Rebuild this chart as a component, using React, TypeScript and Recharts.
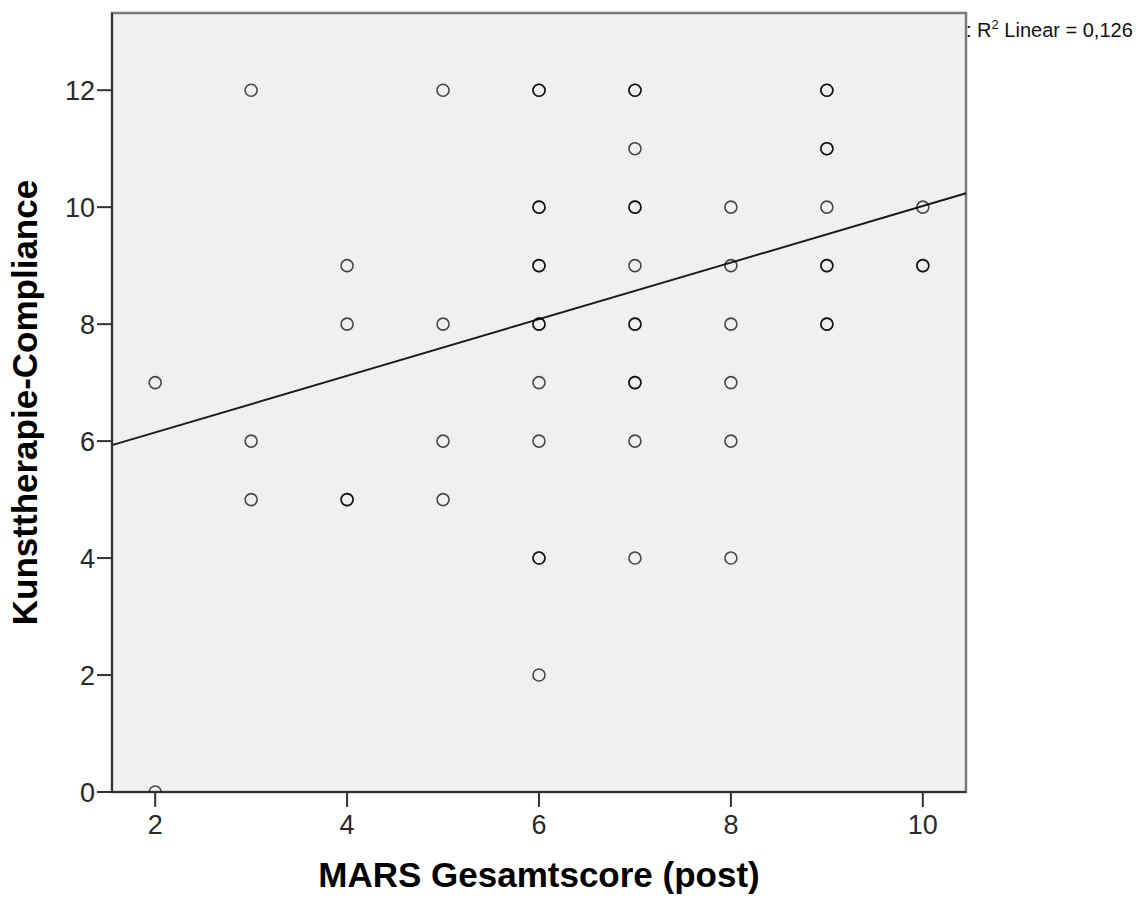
import React from "react"
import {
  ScatterChart,
  Scatter,
  XAxis,
  YAxis,
  CartesianGrid,
  ReferenceArea,
  ReferenceLine,
} from "recharts"

// one entry per case, grouped by MARS score
const marsScores = [
  2, 2,
  3, 3, 3,
  4, 4, 4, 4,
  5, 5, 5, 5,
  6, 6, 6, 6, 6, 6, 6, 6, 6, 6, 6, 6, 6,
  7, 7, 7, 7, 7, 7, 7, 7, 7, 7, 7, 7,
  8, 8, 8, 8, 8, 8,
  9, 9, 9, 9, 9, 9, 9, 9, 9,
  10, 10, 10,
]
const complianceScores = [
  7, 0,
  12, 6, 5,
  9, 8, 5, 5,
  12, 8, 6, 5,
  12, 12, 10, 10, 9, 9, 8, 8, 7, 6, 4, 4, 2,
  12, 12, 11, 10, 10, 9, 8, 8, 7, 7, 6, 4,
  10, 9, 8, 7, 6, 4,
  12, 12, 11, 11, 10, 9, 9, 8, 8,
  10, 9, 9,
]

const xTicks = [2, 4, 6, 8, 10]
const yTicks = [0, 2, 4, 6, 8, 10, 12]
const xDomain = [1.55, 10.45]
const yDomain = [0, 13.32]

// fit line
const fitIntercept = 5.18
const fitSlope = 0.484
const rSquaredText = "0,126"

const points = marsScores.map((x, i) => ({ x, y: complianceScores[i] }))

const font = "'Liberation Sans', Arial, Helvetica, sans-serif"
const tickStyle = { fontSize: 27, fill: "#2a2a2a", fontFamily: font }

const OpenCircle = (props: any) => (
  <circle
    cx={props.cx}
    cy={props.cy}
    r={6}
    fill="none"
    stroke="#000"
    strokeOpacity={0.7}
    strokeWidth={1.6}
  />
)

export default function App() {
  return (
    <div
      style={{
        position: "absolute",
        left: 0,
        top: 0,
        width: 1142,
        height: 898,
        background: "#fff",
        fontFamily: font,
      }}
    >
      <ScatterChart
        width={1142}
        height={898}
        margin={{ top: 13, right: 176, bottom: 46, left: 52 }}
      >
        <CartesianGrid
          horizontal={false}
          vertical={false}
          fill="#F0F0F0"
          fillOpacity={1}
        />
        <ReferenceArea
          x1={xDomain[0]}
          x2={xDomain[1]}
          y1={yDomain[0]}
          y2={yDomain[1]}
          fill="none"
          stroke="#7a7a7a"
          strokeWidth={2.5}
          fillOpacity={0}
        />
        <XAxis
          type="number"
          dataKey="x"
          domain={xDomain}
          ticks={xTicks}
          allowDataOverflow
          height={60}
          tickSize={15}
          tickMargin={8}
          axisLine={{ stroke: "#333", strokeWidth: 2 }}
          tickLine={{ stroke: "#333", strokeWidth: 2 }}
          tick={tickStyle}
          label={{
            content: (p: any) => {
              const vb = p.viewBox
              return (
                <text
                  x={vb.x + vb.width / 2}
                  y={vb.y + 95}
                  textAnchor="middle"
                  fontSize={35}
                  fontWeight="bold"
                  fontFamily={font}
                  fill="#000"
                >
                  MARS Gesamtscore (post)
                </text>
              )
            },
          }}
        />
        <YAxis
          type="number"
          dataKey="y"
          domain={yDomain}
          ticks={yTicks}
          allowDataOverflow
          width={60}
          tickSize={15}
          tickMargin={2}
          axisLine={{ stroke: "#333", strokeWidth: 2 }}
          tickLine={{ stroke: "#333", strokeWidth: 2 }}
          tick={tickStyle}
          label={{
            content: (p: any) => {
              const vb = p.viewBox
              const cx = vb.x - 15
              const cy = vb.y + vb.height / 2
              return (
                <text
                  x={cx}
                  y={cy}
                  transform={`rotate(-90, ${cx}, ${cy})`}
                  textAnchor="middle"
                  fontSize={35}
                  fontWeight="bold"
                  fontFamily={font}
                  fill="#000"
                >
                  Kunsttherapie-Compliance
                </text>
              )
            },
          }}
        />
        <Scatter
          data={points}
          shape={OpenCircle}
          isAnimationActive={false}
        />
        <ReferenceLine
          segment={[
            { x: xDomain[0], y: fitIntercept + fitSlope * xDomain[0] },
            { x: xDomain[1], y: fitIntercept + fitSlope * xDomain[1] },
          ]}
          stroke="#1a1a1a"
          strokeWidth={1.9}
        />
      </ScatterChart>
      <div
        style={{
          position: "absolute",
          left: 966,
          top: 20,
          fontSize: 20,
          lineHeight: "20px",
          color: "#111",
          whiteSpace: "nowrap",
        }}
      >
        : R
        <span
          style={{
            fontSize: 13,
            position: "relative",
            top: -8,
            lineHeight: 0,
          }}
        >
          2
        </span>{" "}
        Linear = {rSquaredText}
      </div>
    </div>
  )
}
